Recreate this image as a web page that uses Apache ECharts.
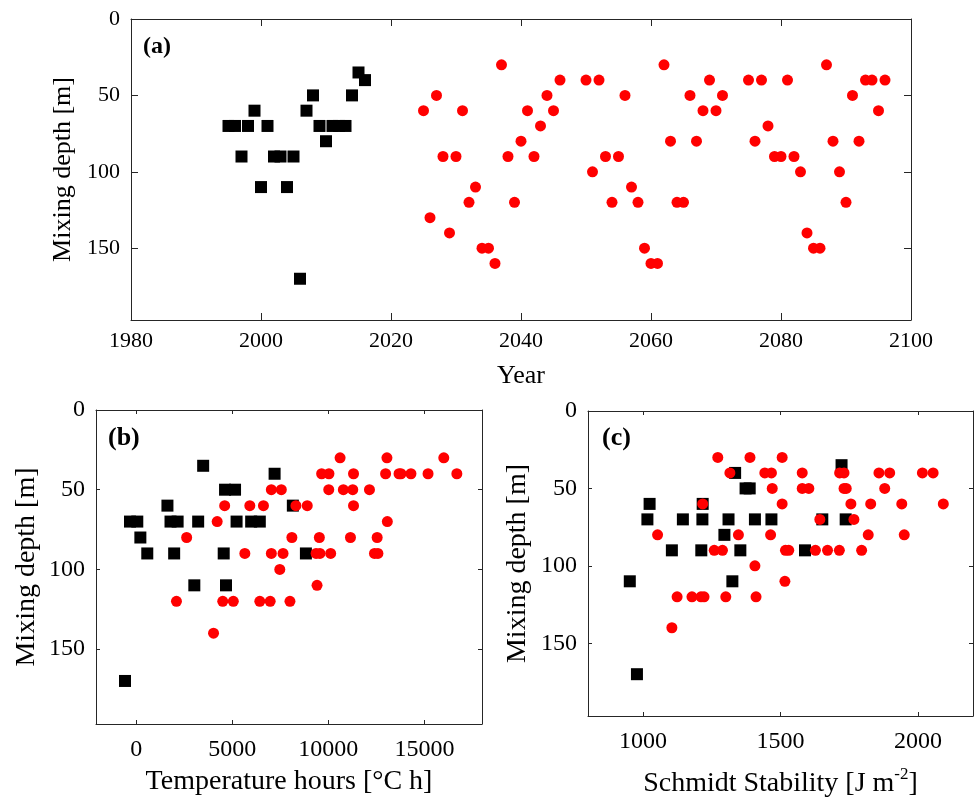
<!DOCTYPE html>
<html>
<head>
<meta charset="utf-8">
<script src="https://cdn.jsdelivr.net/npm/echarts@6/dist/echarts.min.js"></script>
<style>
html,body{margin:0;padding:0;background:#fff;}
#chart{width:974px;height:799px;}
</style>
</head>
<body>
<div id="chart"></div>
<script>
// ---------- Panel (a): mixing depth vs year ----------
const aBlackYear  = [1995,1996,1997,1998,1999,2000,2001,2002,2003,2004,2005,2006,2007,2008,2009,2010,2011,2012,2013,2014,2015,2016];
const aBlackDepth = [70,70,90,70,60,110,70,90,90,110,90,170,60,50,70,80,70,70,70,50,35,40];
const aRedYear  = [2025,2026,2027,2028,2029,2030,2031,2032,2033,2034,2035,2036,2037,2038,2039,2040,2041,2042,2043,2044,2045,2046,
                   2050,2051,2052,2053,2054,2055,2056,2057,2058,2059,2060,2061,2062,2063,2064,2065,2066,2067,2068,2069,2070,2071,
                   2075,2076,2077,2078,2079,2080,2081,2082,2083,2084,2085,2086,2087,2088,2089,2090,2091,2092,2093,2094,2095,2096];
const aRedDepth = [60,130,50,90,140,90,60,120,110,150,150,160,30,90,120,80,60,90,70,50,60,40,
                   40,100,40,90,120,90,50,110,120,150,160,160,30,80,120,120,50,80,60,40,60,50,
                   40,80,40,70,90,90,40,90,100,140,150,150,30,80,100,120,50,80,40,40,60,40];

// ---------- Panel (b): mixing depth vs temperature hours ----------
const bBlackT     = [3480,7200,4620,5140,1620,8150,-330,50,1780,2150,3220,5220,5980,6430,210,570,1970,4550,8830,3020,4670,-590];
const bBlackDepth = [35,40,50,50,60,60,70,70,70,70,70,70,70,70,80,90,90,90,90,110,110,170];
const bRedT = [7030,7550,4600,5910,6620,4210,2620,8100,5650,7030,7640,7470,2090,4500,5050,6430,6970,8000,4020,
               10610,13050,16010,9650,10030,11310,12980,13680,13780,14300,15190,16690,
               10020,10780,11270,12140,8310,8900,11310,13070,9530,11150,12540,9360,9560,10120,12400,12580,9410];
const bRedDepth = [50,50,60,60,60,70,80,80,90,90,90,100,120,120,120,120,120,120,140,
                   30,30,30,40,40,40,40,40,40,40,40,40,
                   50,50,50,50,60,60,60,70,80,80,80,90,90,90,90,90,110];

// ---------- Panel (c): mixing depth vs Schmidt stability ----------
const cBlackS     = [1722,1335,1373,1388,1024,1217,1016,1145,1216,1311,1407,1467,1652,1737,1296,1105,1212,1354,1589,952,1325,978];
const cBlackDepth = [35,40,50,50,60,60,70,70,70,70,70,70,70,70,80,90,90,90,90,110,110,170];
const cRedS = [1272,1389,1506,
               1316,1443,1467,1579,1715,1731,1858,1897,2016,2055,
               1470,1579,1603,1731,1739,1879,
               1217,1506,1756,1828,1941,2092,
               1643,1767,
               1053,1347,1464,1819,1950,
               1259,1289,1518,1530,1627,1671,1714,1795,
               1407,1516,
               1124,1178,1211,1222,1301,1411,
               1105];
const cRedDepth = [30,30,30,
               40,40,40,40,40,40,40,40,40,40,
               50,50,50,50,50,50,
               60,60,60,60,60,60,
               70,70,
               80,80,80,80,80,
               90,90,90,90,90,90,90,90,
               100,110,
               120,120,120,120,120,120,
               140];

// ---------- Tick labels ----------
const depthTicks = [0,50,100,150];
const yearTicks  = [1980,2000,2020,2040,2060,2080,2100];
const tempTicks  = [0,5000,10000,15000];
const schTicks   = [1000,1500,2000];

const zip = (xs, ys) => xs.map((x, i) => [x, ys[i]]);
const plain = v => String(v);

const FONT = '"Liberation Serif", "Times New Roman", serif';
const AX = '#262626';

function xAxes(gi, min, max, ticks, name, nameGap, fs, nfs, tickLen, margin) {
  const common = {gridIndex: gi, type: 'value', min: min, max: max,
    splitLine: {show: false},
    axisLine: {show: true, onZero: false, lineStyle: {color: AX, width: 1}}};
  return [
    Object.assign({}, common, {position: 'bottom',
      name: name, nameLocation: 'middle', nameGap: nameGap,
      nameTextStyle: {fontFamily: FONT, fontSize: nfs, color: '#000'},
      axisTick: {show: true, inside: true, length: tickLen, customValues: ticks, lineStyle: {color: AX}},
      axisLabel: {show: true, customValues: ticks, formatter: plain, margin: margin, fontFamily: FONT, fontSize: fs, color: '#000'}}),
    Object.assign({}, common, {position: 'top',
      axisTick: {show: true, inside: true, length: tickLen, customValues: ticks, lineStyle: {color: AX}},
      axisLabel: {show: false}})
  ];
}
function yAxes(gi, name, nameGap, fs, nfs, tickLen, margin) {
  const common = {gridIndex: gi, type: 'value', min: 0, max: 197, inverse: true,
    splitLine: {show: false},
    axisLine: {show: true, onZero: false, lineStyle: {color: AX, width: 1}}};
  return [
    Object.assign({}, common, {position: 'left',
      name: name, nameLocation: 'middle', nameGap: nameGap,
      nameTextStyle: {fontFamily: FONT, fontSize: nfs, color: '#000'},
      axisTick: {show: true, inside: true, length: tickLen, customValues: depthTicks, lineStyle: {color: AX}},
      axisLabel: {show: true, customValues: depthTicks, formatter: plain, margin: margin, fontFamily: FONT, fontSize: fs, color: '#000'}}),
    Object.assign({}, common, {position: 'right',
      axisTick: {show: true, inside: true, length: tickLen, customValues: depthTicks, lineStyle: {color: AX}},
      axisLabel: {show: false}})
  ];
}

const xa = [].concat(
  xAxes(0, 1980, 2100, yearTicks, 'Year', 43, 22, 26, 7, 10),
  xAxes(1, -2100, 18000, tempTicks, 'Temperature hours [°C h]', 44, 24, 28, 4, 14),
  xAxes(2, 800, 2200, schTicks, '{a|Schmidt Stability [J m}{s|-2}{a|]}', 50, 24, 28, 4, 14)
);
xa[4].nameTextStyle = {rich: {
  a: {fontFamily: FONT, fontSize: 28, color: '#000', verticalAlign: 'bottom', lineHeight: 32},
  s: {fontFamily: FONT, fontSize: 17, color: '#000', verticalAlign: 'top', lineHeight: 32, padding: [0, 0, 14, 0]}
}};
const ya = [].concat(
  yAxes(0, 'Mixing depth [m]', 53, 22, 26, 7, 11),
  yAxes(1, 'Mixing depth [m]', 55, 24, 28, 4, 11),
  yAxes(2, 'Mixing depth [m]', 56, 24, 28, 4, 11)
);

function sq(xi, yi, data) {
  return {type: 'scatter', xAxisIndex: xi, yAxisIndex: yi, data: data, symbol: 'rect', symbolSize: 12,
    itemStyle: {color: '#000', opacity: 1}, silent: true, z: 2};
}
function ci(xi, yi, data) {
  return {type: 'scatter', xAxisIndex: xi, yAxisIndex: yi, data: data, symbol: 'circle', symbolSize: 11,
    itemStyle: {color: '#ff0000', opacity: 1}, silent: true, z: 3};
}

const option = {
  animation: false,
  backgroundColor: '#fff',
  grid: [
    {left: 131, top: 19, width: 780, height: 301, containLabel: false, outerBoundsMode: 'none'},
    {left: 96, top: 410, width: 386, height: 314, containLabel: false, outerBoundsMode: 'none'},
    {left: 588, top: 411, width: 385, height: 305, containLabel: false, outerBoundsMode: 'none'}
  ],
  xAxis: xa,
  yAxis: ya,
  series: [
    sq(0, 0, zip(aBlackYear, aBlackDepth)),
    ci(0, 0, zip(aRedYear, aRedDepth)),
    sq(2, 2, zip(bBlackT, bBlackDepth)),
    ci(2, 2, zip(bRedT, bRedDepth)),
    sq(4, 4, zip(cBlackS, cBlackDepth)),
    ci(4, 4, zip(cRedS, cRedDepth))
  ],
  graphic: [
    {type: 'text', left: 143, top: 35, style: {text: '(a)', fontFamily: FONT, fontWeight: 'bold', fontSize: 24, fill: '#000'}},
    {type: 'text', left: 108, top: 425, style: {text: '(b)', fontFamily: FONT, fontWeight: 'bold', fontSize: 26, fill: '#000'}},
    {type: 'text', left: 602, top: 425, style: {text: '(c)', fontFamily: FONT, fontWeight: 'bold', fontSize: 26, fill: '#000'}}
  ]
};

const chart = echarts.init(document.getElementById('chart'), null, {renderer: 'canvas'});
chart.setOption(option);
</script>
</body>
</html>
